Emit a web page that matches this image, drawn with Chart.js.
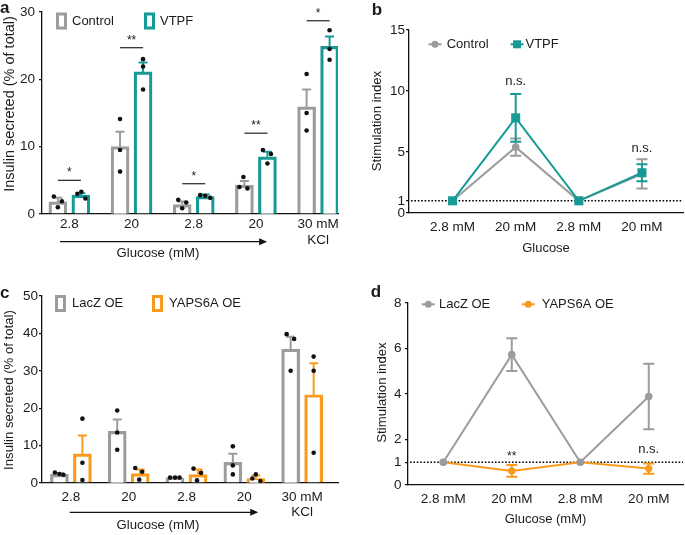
<!DOCTYPE html>
<html>
<head>
<meta charset="utf-8">
<title>Insulin secretion – VTPF / YAPS6A</title>
<script src="https://cdn.jsdelivr.net/npm/chart.js@4.4.1/dist/chart.umd.min.js"></script>
<style>
  body { margin: 0; background: #fff; }
  #figure { position: relative; width: 685px; height: 535px; }
  #figure canvas { position: absolute; }
</style>
</head>
<body>
<div id="figure">
  <canvas id="panelA" width="340" height="270" style="left:0;top:0"></canvas>
  <canvas id="panelB" width="345" height="270" style="left:340px;top:0"></canvas>
  <canvas id="panelC" width="340" height="265" style="left:0;top:270px"></canvas>
  <canvas id="panelD" width="345" height="265" style="left:340px;top:270px"></canvas>
</div>
<script>
/* ── Data ───────────────────────────────────────────────────── */
// a – insulin secreted (% of total), mean, SEM and replicates
const groupsA     = ['2.8', '20', '2.8', '20', ['30 mM', 'KCl']];
const yTicksA     = [0, 10, 20, 30];
const controlA    = [1.8, 10.0, 1.4, 4.3, 15.9];
const controlErrA = [0.6, 2.2, 0.45, 0.6, 2.6];
const controlPtsA = [[2.6, 1.9, 1.0], [14.1, 9.5, 6.3], [2.1, 1.7, 0.85], [5.5, 4.0, 3.8], [20.8, 15.0, 12.4]];
const vtpfA       = [2.8, 21.1, 2.6, 8.5, 24.9];
const vtpfErrA    = [0.3, 1.4, 0.3, 0.75, 1.45];
const vtpfPtsA    = [[3.0, 3.3, 2.3], [23.0, 21.9, 18.5], [2.8, 2.7, 2.4], [9.5, 8.9, 7.5], [27.3, 24.5, 22.9]];
const sigTextA    = ['*', '**', '*', '**', '*'];
const sigLevelA   = [5.0, 24.7, 4.5, 12.0, 28.7];

// b – stimulation index
const doseB       = ['2.8 mM', '20 mM', '2.8 mM', '20 mM'];
const yTicksB     = [0, 1, 5, 10, 15];
const controlB    = [1, 5.4, 1, 3.2];
const controlErrB = [0, 0.7, 0, 1.2];
const vtpfB       = [1, 7.8, 1, 3.3];
const vtpfErrB    = [0, 1.95, 0, 0.7];
const sigTextB    = ['', 'n.s.', '', 'n.s.'];
const sigLevelB   = [0, 10.8, 0, 5.3];

// c – insulin secreted (% of total), LacZ vs YAPS6A overexpression
const groupsC     = ['2.8', '20', '2.8', '20', ['30 mM', 'KCl']];
const yTicksC     = [0, 10, 20, 30, 40, 50];
const lacZC       = [2.3, 13.8, 1.35, 5.5, 35.8];
const lacZErrC    = [0.3, 3.2, 0.15, 2.3, 3.3];
const lacZPtsC    = [[2.8, 2.4, 2.2], [19.4, 13.5, 8.9], [1.45, 1.45, 1.45], [9.8, 4.7, 2.3], [39.8, 38.5, 30.0]];
const yapC        = [7.8, 2.5, 2.25, 1.2, 23.6];
const yapErrC     = [4.9, 1.1, 1.35, 0.8, 8.4];
const yapPtsC     = [[17.2, 5.4, 0.8], [4.0, 3.0, 0.9], [3.85, 2.7, 0.7], [2.3, 1.2, 0.55], [33.8, 30.0, 8.1]];

// d – stimulation index
const doseD       = ['2.8 mM', '20 mM', '2.8 mM', '20 mM'];
const yTicksD     = [0, 1, 2, 4, 6, 8];
const lacZD       = [1, 5.73, 1, 3.89];
const lacZErrD    = [0, 0.72, 0, 1.44];
const yapD        = [1, 0.62, 1, 0.72];
const yapErrD     = [0, 0.26, 0, 0.22];
const sigTextD    = ['', '**', '', 'n.s.'];
const sigLevelD   = [0, 1.4, 0, 1.55];

/* ── Style ──────────────────────────────────────────────────── */
const FAMILY = '"Liberation Sans", Arial, Helvetica, sans-serif';
const INK    = '#1b1b1b';
const AXIS   = '#111';
const GRAY   = '#9c9c9c';
const TEAL   = '#169a96';
const ORANGE = '#f99a1e';

// horizontal spread of replicate dots inside each bar (px)
const jitterCtrlA = [[-4, 4, 0], [0, 0, 0], [-4, 4, 0], [-1, -5, 3], [0, 0, 0]];
const jitterVtpfA = [[-3.5, 0.5, 4.5], [0, 0, 0], [-5, 0, 5], [-4.5, 3.5, 0], [0, 0, 0]];
const jitterLacZC = [[-4.5, 0, 4], [0, 0, 0], [-5, 0, 4.5], [0, 0, 0], [-4, 3.5, 0]];
const jitterYapC  = [[0, 0, 0], [-5, 2, -1], [-4.5, 3, -1], [0, -3.5, 4.5], [0, 0, 0]];

Chart.defaults.font.family = FAMILY;
Chart.defaults.color = INK;

function label(ctx, str, x, y, size, opt = {}) {
    ctx.save();
    ctx.font = `${opt.bold ? 'bold ' : ''}${size}px ${FAMILY}`;
    ctx.fillStyle = opt.color || INK;
    ctx.textAlign = opt.align || 'center';
    ctx.textBaseline = opt.baseline || 'middle';
    ctx.translate(x, y);
    if (opt.rotate) ctx.rotate(opt.rotate);
    ctx.fillText(str, 0, 0);
    ctx.restore();
}

// significance marks: star glyphs sit high, so shift to the visual centre
function sigMark(ctx, str, x, y, size) {
    const lift = str.includes('*') ? 0.58 : 0.27;
    label(ctx, str, x, y + size * lift, size, { baseline: 'alphabetic' });
}

function marker(ctx, style, cx, cy, r, color) {
    ctx.fillStyle = color;
    ctx.beginPath();
    if (style === 'rect') ctx.rect(cx - r, cy - r, 2 * r, 2 * r);
    else ctx.arc(cx, cy, r, 0, 2 * Math.PI);
    ctx.fill();
}

function axisX(labels, min, max, height, pad, lineHeight) {
    return {
        type: 'linear', min, max, bounds: 'data', offset: false,
        afterBuildTicks: s => { s.ticks = labels.map((_, i) => ({ value: i })); },
        afterFit: s => { s.height = height; s.paddingLeft = 0; s.paddingRight = 0; },
        border: { color: AXIS, width: 1.3 },
        grid: { display: false, drawTicks: false },
        ticks: {
            autoSkip: false, maxRotation: 0, padding: pad, color: INK,
            font: { size: 13.5, lineHeight },
            callback: v => labels[Math.round(v)],
        },
    };
}

function axisY(ticks, width, pad) {
    return {
        min: ticks[0], max: ticks[ticks.length - 1],
        afterBuildTicks: s => { s.ticks = ticks.map(v => ({ value: v })); },
        afterFit: s => { s.width = width; s.paddingTop = 0; s.paddingBottom = 0; },
        border: { color: AXIS, width: 1.3 },
        grid: { drawOnChartArea: false, color: AXIS, lineWidth: 1.3, tickLength: 3 },
        ticks: { autoSkip: false, padding: pad, color: INK, font: { size: 13.5 }, callback: v => String(v) },
    };
}

const baseOptions = padding => ({
    responsive: false,
    animation: false,
    events: [],
    layout: { autoPadding: false, padding },
    plugins: { legend: { display: false }, tooltip: { enabled: false } },
});

/* ── Bar panels (a, c) ──────────────────────────────────────── */
function barPanel(id, o) {
    const extras = {
        id: 'barExtras',
        afterDatasetsDraw(chart) {
            const { ctx, scales: { y } } = chart;
            ctx.save();
            // SEM, upward only
            o.series.forEach((s, d) => {
                chart.getDatasetMeta(d).data.forEach((bar, i) => {
                    const top = y.getPixelForValue(s.values[i] + s.errors[i]);
                    ctx.strokeStyle = s.color;
                    ctx.lineWidth = 2;
                    ctx.beginPath();
                    ctx.moveTo(bar.x, bar.y); ctx.lineTo(bar.x, top);
                    ctx.moveTo(bar.x - 4.5, top); ctx.lineTo(bar.x + 4.5, top);
                    ctx.stroke();
                });
            });
            // replicates
            o.series.forEach((s, d) => {
                chart.getDatasetMeta(d).data.forEach((bar, i) => {
                    s.points[i].forEach((v, k) => {
                        marker(ctx, 'circle', bar.x + s.jitter[i][k], y.getPixelForValue(v), 2.3, '#111');
                    });
                });
            });
            // significance brackets
            if (o.sigText) {
                const a = chart.getDatasetMeta(0).data, b = chart.getDatasetMeta(1).data;
                o.sigText.forEach((t, i) => {
                    const ly = y.getPixelForValue(o.sigLevel[i]);
                    ctx.strokeStyle = '#333';
                    ctx.lineWidth = 1.3;
                    ctx.beginPath();
                    ctx.moveTo(a[i].x, ly); ctx.lineTo(b[i].x, ly);
                    ctx.stroke();
                    sigMark(ctx, t, (a[i].x + b[i].x) / 2, ly - 11, 12);
                });
            }
            ctx.restore();
        },
        afterDraw(chart) {
            const { ctx, scales: { x } } = chart;
            ctx.save();
            // legend boxes
            o.series.forEach(s => {
                ctx.strokeStyle = s.color;
                ctx.lineWidth = 3;
                ctx.strokeRect(s.legendX + 1.5, o.legendY - 7, 8, 14);
                label(ctx, s.label, s.legendX + o.legendGap, o.legendY, 13, { align: 'left' });
            });
            // glucose arrow
            const x0 = x.getPixelForValue(o.arrow[0]), x1 = x.getPixelForValue(o.arrow[1]);
            ctx.strokeStyle = AXIS;
            ctx.fillStyle = AXIS;
            ctx.lineWidth = 1.3;
            ctx.beginPath();
            ctx.moveTo(x0, o.arrowY); ctx.lineTo(x1 - 6, o.arrowY);
            ctx.stroke();
            ctx.beginPath();
            ctx.moveTo(x1, o.arrowY); ctx.lineTo(x1 - 8, o.arrowY - 3.5); ctx.lineTo(x1 - 8, o.arrowY + 3.5);
            ctx.closePath();
            ctx.fill();
            label(ctx, 'Glucose (mM)', x.getPixelForValue(o.xTitleAt), o.xTitleY, 13.2);
            label(ctx, 'Insulin secreted (% of total)', o.yTitle[0], o.yTitle[1], o.yTitle[2], { rotate: -Math.PI / 2 });
            label(ctx, o.letter, o.letterPos[0], o.letterPos[1], 17, { bold: true, align: 'left', baseline: 'alphabetic' });
            ctx.restore();
        },
    };

    new Chart(document.getElementById(id), {
        type: 'bar',
        data: {
            datasets: o.series.map(s => ({
                label: s.label,
                data: s.values.map((v, i) => ({ x: i, y: v })),
                backgroundColor: '#fff',
                borderColor: s.color,
                borderWidth: 3.2,
                barThickness: 23,
                maxBarThickness: 18,
            })),
        },
        options: {
            ...baseOptions(o.padding),
            scales: {
                x: axisX(o.groups, o.xRange[0], o.xRange[1], o.xHeight, o.xPad, o.lineHeight),
                y: axisY(o.yTicks, 42, o.yPad),
            },
        },
        plugins: [extras],
    });
}

/* ── Line panels (b, d) ─────────────────────────────────────── */
function linePanel(id, o) {
    const extras = {
        id: 'lineExtras',
        beforeDatasetsDraw(chart) {
            const { ctx, chartArea: area, scales: { x, y } } = chart;
            ctx.save();
            // baseline at stimulation index 1
            const y1 = y.getPixelForValue(1);
            ctx.strokeStyle = '#000';
            ctx.lineWidth = 1.6;
            ctx.setLineDash([1.6, 1.8]);
            ctx.beginPath();
            ctx.moveTo(area.left + 2, y1); ctx.lineTo(area.right, y1);
            ctx.stroke();
            ctx.setLineDash([]);
            // SEM, both directions, drawn under the lines
            o.series.forEach(s => {
                s.values.forEach((v, i) => {
                    if (!s.errors[i]) return;
                    const px = x.getPixelForValue(i);
                    const hi = y.getPixelForValue(v + s.errors[i]);
                    const lo = y.getPixelForValue(v - s.errors[i]);
                    ctx.strokeStyle = s.color;
                    ctx.lineWidth = 2;
                    ctx.beginPath();
                    ctx.moveTo(px, hi); ctx.lineTo(px, lo);
                    ctx.moveTo(px - 5.5, hi); ctx.lineTo(px + 5.5, hi);
                    ctx.moveTo(px - 5.5, lo); ctx.lineTo(px + 5.5, lo);
                    ctx.stroke();
                });
            });
            ctx.restore();
        },
        afterDraw(chart) {
            const { ctx, chartArea: area, scales: { x, y } } = chart;
            ctx.save();
            o.sigText.forEach((t, i) => {
                if (t) sigMark(ctx, t, x.getPixelForValue(i), y.getPixelForValue(o.sigLevel[i]), t.includes('*') ? 12 : 13);
            });
            o.series.forEach(s => {
                ctx.strokeStyle = s.color;
                ctx.lineWidth = 2;
                ctx.beginPath();
                ctx.moveTo(s.legendX - 6.5, o.legendY); ctx.lineTo(s.legendX + 6.5, o.legendY);
                ctx.stroke();
                marker(ctx, s.style, s.legendX, o.legendY, s.style === 'rect' ? 4 : 3.5, s.color);
                label(ctx, s.label, s.legendText, o.legendY, 13, { align: 'left' });
            });
            label(ctx, o.xTitle, (area.left + area.right) / 2, o.xTitleY, 13);
            label(ctx, 'Stimulation index', o.yTitle[0], o.yTitle[1], 13.2, { rotate: -Math.PI / 2 });
            label(ctx, o.letter, o.letterPos[0], o.letterPos[1], 17, { bold: true, align: 'left', baseline: 'alphabetic' });
            ctx.restore();
        },
    };

    new Chart(document.getElementById(id), {
        type: 'line',
        data: {
            datasets: o.series.map(s => ({
                label: s.label,
                data: s.values.map((v, i) => ({ x: i, y: v })),
                borderColor: s.color,
                backgroundColor: s.color,
                borderWidth: 2,
                tension: 0,
                pointStyle: s.style,
                pointRadius: s.radius,
                pointBorderWidth: 0,
                order: s.order,
            })),
        },
        options: {
            ...baseOptions(o.padding),
            scales: {
                x: axisX(o.doses, o.xRange[0], o.xRange[1], o.xHeight, 6, 1.2),
                y: axisY(o.yTicks, o.yWidth, o.yPad),
            },
        },
        plugins: [extras],
    });
}

/* ── a ──────────────────────────────────────────────────────── */
barPanel('panelA', {
    groups: groupsA, yTicks: yTicksA,
    series: [
        { label: 'Control', color: GRAY, values: controlA, errors: controlErrA, points: controlPtsA, jitter: jitterCtrlA, legendX: 56 },
        { label: 'VTPF',    color: TEAL, values: vtpfA,    errors: vtpfErrA,    points: vtpfPtsA,    jitter: jitterVtpfA, legendX: 144 },
    ],
    sigText: sigTextA, sigLevel: sigLevelA,
    padding: { top: 12, right: 2, left: 0, bottom: 0 },
    xRange: [-0.44, 4.32], xHeight: 56, xPad: 2, lineHeight: 1.2, yPad: 4,
    legendY: 21, legendGap: 16,
    arrow: [-0.15, 3.18], arrowY: 241.7, xTitleAt: 1.425, xTitleY: 253.5,
    yTitle: [10, 104, 14.5], letter: 'a', letterPos: [0, 12.7],
});

/* ── b ──────────────────────────────────────────────────────── */
linePanel('panelB', {
    doses: doseB, yTicks: yTicksB,
    series: [
        { label: 'Control', color: GRAY, values: controlB, errors: controlErrB, style: 'circle', radius: 3.8, order: 2, legendX: 95,  legendText: 106.7 },
        { label: 'VTPF',    color: TEAL, values: vtpfB,    errors: vtpfErrB,    style: 'rect',   radius: 6.4, order: 1, legendX: 177, legendText: 185.5 },
    ],
    sigText: sigTextB, sigLevel: sigLevelB,
    padding: { top: 30, right: 2, left: 0, bottom: 0 },
    xRange: [-0.69, 3.65], xHeight: 57, yWidth: 69, yPad: 1,
    legendY: 44.3, xTitle: 'Glucose', xTitleY: 248,
    yTitle: [37.5, 121], letter: 'b', letterPos: [31.7, 15],
});

/* ── c ──────────────────────────────────────────────────────── */
barPanel('panelC', {
    groups: groupsC, yTicks: yTicksC,
    series: [
        { label: 'LacZ OE',   color: GRAY,   values: lacZC, errors: lacZErrC, points: lacZPtsC, jitter: jitterLacZC, legendX: 55 },
        { label: 'YAPS6A OE', color: ORANGE, values: yapC,  errors: yapErrC,  points: yapPtsC,  jitter: jitterYapC,  legendX: 152 },
    ],
    padding: { top: 26, right: 2, left: 0, bottom: 0 },
    xRange: [-0.5, 4.62], xHeight: 52, xPad: 7, lineHeight: 1.12, yPad: 1,
    legendY: 33.5, legendGap: 17,
    arrow: [-0.02, 3.24], arrowY: 242.3, xTitleAt: 1.505, xTitleY: 255.5,
    yTitle: [9.5, 120, 13.2], letter: 'c', letterPos: [0, 28.3],
});

/* ── d ──────────────────────────────────────────────────────── */
linePanel('panelD', {
    doses: doseD, yTicks: yTicksD,
    series: [
        { label: 'LacZ OE',   color: GRAY,   values: lacZD, errors: lacZErrD, style: 'circle', radius: 3.8, order: 1, legendX: 88.3,  legendText: 99 },
        { label: 'YAPS6A OE', color: ORANGE, values: yapD,  errors: yapErrD,  style: 'circle', radius: 3.6, order: 2, legendX: 188.3, legendText: 201.7 },
    ],
    sigText: sigTextD, sigLevel: sigLevelD,
    padding: { top: 33, right: 2, left: 0, bottom: 0 },
    xRange: [-0.515, 3.5], xHeight: 50, yWidth: 68, yPad: 3.5,
    legendY: 34.3, xTitle: 'Glucose (mM)', xTitleY: 249,
    yTitle: [42.5, 122.5], letter: 'd', letterPos: [30.7, 26.7],
});
</script>
</body>
</html>
